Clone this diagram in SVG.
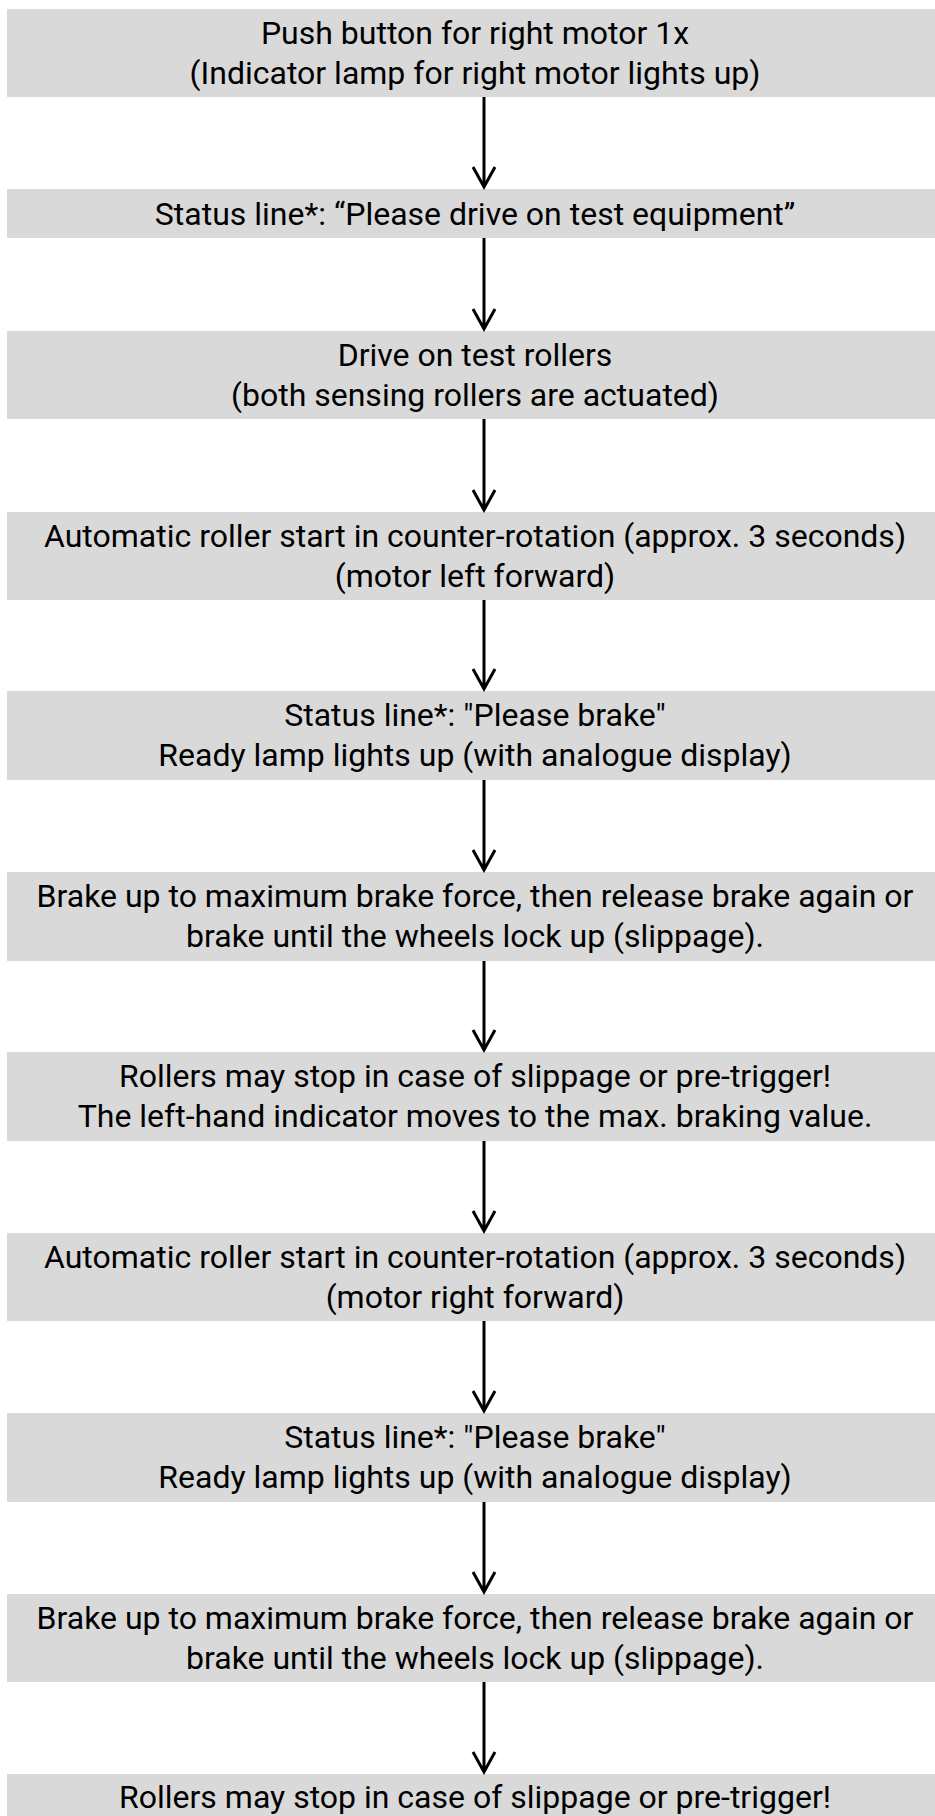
<svg xmlns="http://www.w3.org/2000/svg" width="935" height="1816" viewBox="0 0 935 1816">
<style>
.box{fill:#d9d9d9}
.t{font-family:Roboto,"Liberation Sans",sans-serif;font-size:32px;fill:#000;text-anchor:middle}
.c{stroke:#000;stroke-width:3;fill:none}
</style>
<rect width="935" height="1816" fill="#fff"/>
<g id="n1"><rect class="box" x="7" y="9" width="936" height="88"/><text class="t" x="475" y="44">Push button for right motor 1x</text><text class="t" x="475" y="84">(Indicator lamp for right motor lights up)</text></g>
<g id="n2"><rect class="box" x="7" y="189" width="936" height="49"/><text class="t" x="475" y="225">Status line*: “Please drive on test equipment”</text></g>
<g id="n3"><rect class="box" x="7" y="331" width="936" height="88"/><text class="t" x="475" y="366">Drive on test rollers</text><text class="t" x="475" y="406">(both sensing rollers are actuated)</text></g>
<g id="n4"><rect class="box" x="7" y="512" width="936" height="88"/><text class="t" x="475" y="547">Automatic roller start in counter-rotation (approx. 3 seconds)</text><text class="t" x="475" y="587">(motor left forward)</text></g>
<g id="n5"><rect class="box" x="7" y="691" width="936" height="89"/><text class="t" x="475" y="726">Status line*: "Please brake"</text><text class="t" x="475" y="766">Ready lamp lights up (with analogue display)</text></g>
<g id="n6"><rect class="box" x="7" y="872" width="936" height="89"/><text class="t" x="475" y="907">Brake up to maximum brake force, then release brake again or</text><text class="t" x="475" y="947">brake until the wheels lock up (slippage).</text></g>
<g id="n7"><rect class="box" x="7" y="1052" width="936" height="89"/><text class="t" x="475" y="1087">Rollers may stop in case of slippage or pre-trigger!</text><text class="t" x="475" y="1127">The left-hand indicator moves to the max. braking value.</text></g>
<g id="n8"><rect class="box" x="7" y="1233" width="936" height="88"/><text class="t" x="475" y="1268">Automatic roller start in counter-rotation (approx. 3 seconds)</text><text class="t" x="475" y="1308">(motor right forward)</text></g>
<g id="n9"><rect class="box" x="7" y="1413" width="936" height="89"/><text class="t" x="475" y="1448">Status line*: "Please brake"</text><text class="t" x="475" y="1488">Ready lamp lights up (with analogue display)</text></g>
<g id="n10"><rect class="box" x="7" y="1594" width="936" height="88"/><text class="t" x="475" y="1629">Brake up to maximum brake force, then release brake again or</text><text class="t" x="475" y="1669">brake until the wheels lock up (slippage).</text></g>
<g id="n11"><rect class="box" x="7" y="1774" width="936" height="60"/><text class="t" x="475" y="1808">Rollers may stop in case of slippage or pre-trigger!</text></g>
<g id="connectors">
<path class="c" d="M484 97V187M473 167L484 187L495 167"/>
<path class="c" d="M484 238V329M473 309L484 329L495 309"/>
<path class="c" d="M484 419V510M473 490L484 510L495 490"/>
<path class="c" d="M484 600V689M473 669L484 689L495 669"/>
<path class="c" d="M484 780V870M473 850L484 870L495 850"/>
<path class="c" d="M484 961V1050M473 1030L484 1050L495 1030"/>
<path class="c" d="M484 1141V1231M473 1211L484 1231L495 1211"/>
<path class="c" d="M484 1321V1411M473 1391L484 1411L495 1391"/>
<path class="c" d="M484 1502V1592M473 1572L484 1592L495 1572"/>
<path class="c" d="M484 1682V1772M473 1752L484 1772L495 1752"/>
</g>
</svg>
